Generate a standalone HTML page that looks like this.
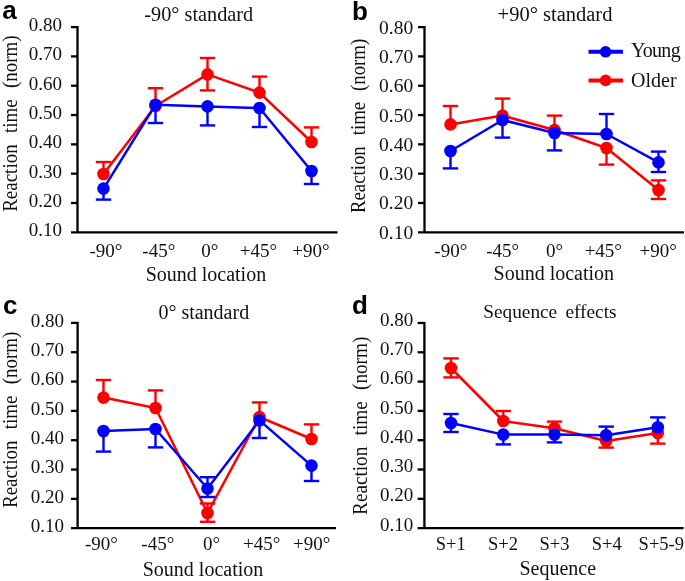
<!DOCTYPE html>
<html><head><meta charset="utf-8"><style>
html,body{margin:0;padding:0;background:#fff;}
body{width:685px;height:581px;overflow:hidden;}
svg{display:block;will-change:transform;}
text{font-family:"Liberation Serif",serif;fill:#111;}
.pl{font-family:"Liberation Sans",sans-serif;font-weight:bold;font-size:26px;fill:#000;}
</style></head><body>
<svg width="685" height="581" viewBox="0 0 685 581">
<rect width="685" height="581" fill="#fff"/>
<text x="2.3" y="19.3" class="pl">a</text>
<text x="198.8" y="20.5" text-anchor="middle" font-size="20.3">-90° standard</text>
<line x1="77.5" y1="26.0" x2="77.5" y2="232.3" stroke="#000" stroke-width="2.3"/>
<line x1="71" y1="232.3" x2="337.5" y2="232.3" stroke="#000" stroke-width="2.3"/>
<line x1="71" y1="27.10" x2="77.5" y2="27.10" stroke="#000" stroke-width="2.3"/>
<line x1="71" y1="56.41" x2="77.5" y2="56.41" stroke="#000" stroke-width="2.3"/>
<line x1="71" y1="85.73" x2="77.5" y2="85.73" stroke="#000" stroke-width="2.3"/>
<line x1="71" y1="115.04" x2="77.5" y2="115.04" stroke="#000" stroke-width="2.3"/>
<line x1="71" y1="144.36" x2="77.5" y2="144.36" stroke="#000" stroke-width="2.3"/>
<line x1="71" y1="173.67" x2="77.5" y2="173.67" stroke="#000" stroke-width="2.3"/>
<line x1="71" y1="202.99" x2="77.5" y2="202.99" stroke="#000" stroke-width="2.3"/>
<text x="62" y="31.00" text-anchor="end" font-size="19">0.80</text>
<text x="62" y="60.31" text-anchor="end" font-size="19">0.70</text>
<text x="62" y="89.63" text-anchor="end" font-size="19">0.60</text>
<text x="62" y="118.94" text-anchor="end" font-size="19">0.50</text>
<text x="62" y="148.26" text-anchor="end" font-size="19">0.40</text>
<text x="62" y="177.57" text-anchor="end" font-size="19">0.30</text>
<text x="62" y="206.89" text-anchor="end" font-size="19">0.20</text>
<text x="62" y="236.20" text-anchor="end" font-size="19">0.10</text>
<text transform="translate(17.0,123.6) rotate(-90) scale(1.0,1.06)" text-anchor="middle" font-size="19" word-spacing="6.5">Reaction time (norm)</text>
<text x="106" y="256.6" text-anchor="middle" font-size="19">-90°</text>
<text x="158.8" y="256.6" text-anchor="middle" font-size="19">-45°</text>
<text x="209.7" y="256.6" text-anchor="middle" font-size="19">0°</text>
<text x="258.5" y="256.6" text-anchor="middle" font-size="19">+45°</text>
<text x="311" y="256.6" text-anchor="middle" font-size="19">+90°</text>
<text x="205.9" y="280.6" text-anchor="middle" font-size="20">Sound location</text>
<polyline points="103.5,174.0 155.5,106.0 207.5,74.4 259.5,92.6 311.5,142.0" fill="none" stroke="#ff0000" stroke-width="2.5" stroke-linejoin="round"/>
<line x1="103.5" y1="174.0" x2="103.5" y2="162.0" stroke="#ff0000" stroke-width="2.4"/>
<line x1="95.8" y1="162.0" x2="111.2" y2="162.0" stroke="#ff0000" stroke-width="2.4"/>
<line x1="155.5" y1="106.0" x2="155.5" y2="88.2" stroke="#ff0000" stroke-width="2.4"/>
<line x1="147.8" y1="88.2" x2="163.2" y2="88.2" stroke="#ff0000" stroke-width="2.4"/>
<line x1="207.5" y1="74.4" x2="207.5" y2="58.0" stroke="#ff0000" stroke-width="2.4"/>
<line x1="199.8" y1="58.0" x2="215.2" y2="58.0" stroke="#ff0000" stroke-width="2.4"/>
<line x1="207.5" y1="74.4" x2="207.5" y2="90.4" stroke="#ff0000" stroke-width="2.4"/>
<line x1="199.8" y1="90.4" x2="215.2" y2="90.4" stroke="#ff0000" stroke-width="2.4"/>
<line x1="259.5" y1="92.6" x2="259.5" y2="76.6" stroke="#ff0000" stroke-width="2.4"/>
<line x1="251.8" y1="76.6" x2="267.2" y2="76.6" stroke="#ff0000" stroke-width="2.4"/>
<line x1="311.5" y1="142.0" x2="311.5" y2="127.4" stroke="#ff0000" stroke-width="2.4"/>
<line x1="303.8" y1="127.4" x2="319.2" y2="127.4" stroke="#ff0000" stroke-width="2.4"/>
<circle cx="103.5" cy="174.0" r="6.3" fill="#ff0000"/>
<circle cx="155.5" cy="106.0" r="6.3" fill="#ff0000"/>
<circle cx="207.5" cy="74.4" r="6.3" fill="#ff0000"/>
<circle cx="259.5" cy="92.6" r="6.3" fill="#ff0000"/>
<circle cx="311.5" cy="142.0" r="6.3" fill="#ff0000"/>
<polyline points="103.5,188.6 155.5,104.7 207.5,106.4 259.5,108.0 311.5,171.0" fill="none" stroke="#0000ff" stroke-width="2.5" stroke-linejoin="round"/>
<line x1="103.5" y1="188.6" x2="103.5" y2="199.6" stroke="#0000ff" stroke-width="2.4"/>
<line x1="95.8" y1="199.6" x2="111.2" y2="199.6" stroke="#0000ff" stroke-width="2.4"/>
<line x1="155.5" y1="104.7" x2="155.5" y2="123.0" stroke="#0000ff" stroke-width="2.4"/>
<line x1="147.8" y1="123.0" x2="163.2" y2="123.0" stroke="#0000ff" stroke-width="2.4"/>
<line x1="207.5" y1="106.4" x2="207.5" y2="125.4" stroke="#0000ff" stroke-width="2.4"/>
<line x1="199.8" y1="125.4" x2="215.2" y2="125.4" stroke="#0000ff" stroke-width="2.4"/>
<line x1="259.5" y1="108.0" x2="259.5" y2="127.0" stroke="#0000ff" stroke-width="2.4"/>
<line x1="251.8" y1="127.0" x2="267.2" y2="127.0" stroke="#0000ff" stroke-width="2.4"/>
<line x1="311.5" y1="171.0" x2="311.5" y2="184.0" stroke="#0000ff" stroke-width="2.4"/>
<line x1="303.8" y1="184.0" x2="319.2" y2="184.0" stroke="#0000ff" stroke-width="2.4"/>
<circle cx="103.5" cy="188.6" r="6.3" fill="#0000ff"/>
<circle cx="155.5" cy="104.7" r="6.3" fill="#0000ff"/>
<circle cx="207.5" cy="106.4" r="6.3" fill="#0000ff"/>
<circle cx="259.5" cy="108.0" r="6.3" fill="#0000ff"/>
<circle cx="311.5" cy="171.0" r="6.3" fill="#0000ff"/>
<text x="352" y="19.5" class="pl" font-size="27">b</text>
<text x="555" y="20.8" text-anchor="middle" font-size="20.5">+90° standard</text>
<line x1="424.5" y1="26.0" x2="424.5" y2="232.3" stroke="#000" stroke-width="2.3"/>
<line x1="418" y1="232.3" x2="684" y2="232.3" stroke="#000" stroke-width="2.3"/>
<line x1="418" y1="27.10" x2="424.5" y2="27.10" stroke="#000" stroke-width="2.3"/>
<line x1="418" y1="56.41" x2="424.5" y2="56.41" stroke="#000" stroke-width="2.3"/>
<line x1="418" y1="85.73" x2="424.5" y2="85.73" stroke="#000" stroke-width="2.3"/>
<line x1="418" y1="115.04" x2="424.5" y2="115.04" stroke="#000" stroke-width="2.3"/>
<line x1="418" y1="144.36" x2="424.5" y2="144.36" stroke="#000" stroke-width="2.3"/>
<line x1="418" y1="173.67" x2="424.5" y2="173.67" stroke="#000" stroke-width="2.3"/>
<line x1="418" y1="202.99" x2="424.5" y2="202.99" stroke="#000" stroke-width="2.3"/>
<text x="413.2" y="33.60" text-anchor="end" font-size="19.5">0.80</text>
<text x="413.2" y="62.91" text-anchor="end" font-size="19.5">0.70</text>
<text x="413.2" y="92.23" text-anchor="end" font-size="19.5">0.60</text>
<text x="413.2" y="121.54" text-anchor="end" font-size="19.5">0.50</text>
<text x="413.2" y="150.86" text-anchor="end" font-size="19.5">0.40</text>
<text x="413.2" y="180.17" text-anchor="end" font-size="19.5">0.30</text>
<text x="413.2" y="209.49" text-anchor="end" font-size="19.5">0.20</text>
<text x="413.2" y="238.80" text-anchor="end" font-size="19.5">0.10</text>
<text transform="translate(364.8,125.9) rotate(-90) scale(0.99,1.06)" text-anchor="middle" font-size="19" word-spacing="6.3">Reaction time (norm)</text>
<text x="450.8" y="256.9" text-anchor="middle" font-size="19">-90°</text>
<text x="502.7" y="256.9" text-anchor="middle" font-size="19">-45°</text>
<text x="554.5" y="256.9" text-anchor="middle" font-size="19">0°</text>
<text x="603.3" y="256.9" text-anchor="middle" font-size="19">+45°</text>
<text x="658.1" y="256.9" text-anchor="middle" font-size="19">+90°</text>
<text x="553.8" y="280" text-anchor="middle" font-size="20">Sound location</text>
<polyline points="450.5,124.4 502.5,115.6 554.5,130.0 606.5,148.0 658.5,190.0" fill="none" stroke="#ff0000" stroke-width="2.5" stroke-linejoin="round"/>
<line x1="450.5" y1="124.4" x2="450.5" y2="106.0" stroke="#ff0000" stroke-width="2.4"/>
<line x1="442.8" y1="106.0" x2="458.2" y2="106.0" stroke="#ff0000" stroke-width="2.4"/>
<line x1="502.5" y1="115.6" x2="502.5" y2="98.6" stroke="#ff0000" stroke-width="2.4"/>
<line x1="494.8" y1="98.6" x2="510.2" y2="98.6" stroke="#ff0000" stroke-width="2.4"/>
<line x1="554.5" y1="130.0" x2="554.5" y2="115.6" stroke="#ff0000" stroke-width="2.4"/>
<line x1="546.8" y1="115.6" x2="562.2" y2="115.6" stroke="#ff0000" stroke-width="2.4"/>
<line x1="606.5" y1="148.0" x2="606.5" y2="164.6" stroke="#ff0000" stroke-width="2.4"/>
<line x1="598.8" y1="164.6" x2="614.2" y2="164.6" stroke="#ff0000" stroke-width="2.4"/>
<line x1="658.5" y1="190.0" x2="658.5" y2="180.4" stroke="#ff0000" stroke-width="2.4"/>
<line x1="650.8" y1="180.4" x2="666.2" y2="180.4" stroke="#ff0000" stroke-width="2.4"/>
<line x1="658.5" y1="190.0" x2="658.5" y2="199.0" stroke="#ff0000" stroke-width="2.4"/>
<line x1="650.8" y1="199.0" x2="666.2" y2="199.0" stroke="#ff0000" stroke-width="2.4"/>
<circle cx="450.5" cy="124.4" r="6.3" fill="#ff0000"/>
<circle cx="502.5" cy="115.6" r="6.3" fill="#ff0000"/>
<circle cx="554.5" cy="130.0" r="6.3" fill="#ff0000"/>
<circle cx="606.5" cy="148.0" r="6.3" fill="#ff0000"/>
<circle cx="658.5" cy="190.0" r="6.3" fill="#ff0000"/>
<polyline points="450.5,151.0 502.5,120.0 554.5,133.0 606.5,134.0 658.5,162.4" fill="none" stroke="#0000ff" stroke-width="2.5" stroke-linejoin="round"/>
<line x1="450.5" y1="151.0" x2="450.5" y2="168.4" stroke="#0000ff" stroke-width="2.4"/>
<line x1="442.8" y1="168.4" x2="458.2" y2="168.4" stroke="#0000ff" stroke-width="2.4"/>
<line x1="502.5" y1="120.0" x2="502.5" y2="137.6" stroke="#0000ff" stroke-width="2.4"/>
<line x1="494.8" y1="137.6" x2="510.2" y2="137.6" stroke="#0000ff" stroke-width="2.4"/>
<line x1="554.5" y1="133.0" x2="554.5" y2="150.4" stroke="#0000ff" stroke-width="2.4"/>
<line x1="546.8" y1="150.4" x2="562.2" y2="150.4" stroke="#0000ff" stroke-width="2.4"/>
<line x1="606.5" y1="134.0" x2="606.5" y2="114.0" stroke="#0000ff" stroke-width="2.4"/>
<line x1="598.8" y1="114.0" x2="614.2" y2="114.0" stroke="#0000ff" stroke-width="2.4"/>
<line x1="658.5" y1="162.4" x2="658.5" y2="151.6" stroke="#0000ff" stroke-width="2.4"/>
<line x1="650.8" y1="151.6" x2="666.2" y2="151.6" stroke="#0000ff" stroke-width="2.4"/>
<line x1="658.5" y1="162.4" x2="658.5" y2="172.0" stroke="#0000ff" stroke-width="2.4"/>
<line x1="650.8" y1="172.0" x2="666.2" y2="172.0" stroke="#0000ff" stroke-width="2.4"/>
<circle cx="450.5" cy="151.0" r="6.3" fill="#0000ff"/>
<circle cx="502.5" cy="120.0" r="6.3" fill="#0000ff"/>
<circle cx="554.5" cy="133.0" r="6.3" fill="#0000ff"/>
<circle cx="606.5" cy="134.0" r="6.3" fill="#0000ff"/>
<circle cx="658.5" cy="162.4" r="6.3" fill="#0000ff"/>
<line x1="588.5" y1="51.8" x2="623" y2="51.8" stroke="#0000ff" stroke-width="4"/>
<circle cx="605.6" cy="51.8" r="5.8" fill="#0000ff"/>
<line x1="588.5" y1="80.4" x2="623" y2="80.4" stroke="#ff0000" stroke-width="4"/>
<circle cx="605.6" cy="80.4" r="5.8" fill="#ff0000"/>
<text x="631" y="56.7" font-size="20" letter-spacing="-0.7">Young</text>
<text x="631" y="87" font-size="20">Older</text>
<text x="3" y="314" class="pl">c</text>
<text x="203.8" y="318.6" text-anchor="middle" font-size="20">0° standard</text>
<line x1="77.6" y1="321.79999999999995" x2="77.6" y2="528.2" stroke="#000" stroke-width="2.3"/>
<line x1="71" y1="528.2" x2="336" y2="528.2" stroke="#000" stroke-width="2.3"/>
<line x1="71" y1="322.90" x2="77.6" y2="322.90" stroke="#000" stroke-width="2.3"/>
<line x1="71" y1="352.23" x2="77.6" y2="352.23" stroke="#000" stroke-width="2.3"/>
<line x1="71" y1="381.56" x2="77.6" y2="381.56" stroke="#000" stroke-width="2.3"/>
<line x1="71" y1="410.89" x2="77.6" y2="410.89" stroke="#000" stroke-width="2.3"/>
<line x1="71" y1="440.21" x2="77.6" y2="440.21" stroke="#000" stroke-width="2.3"/>
<line x1="71" y1="469.54" x2="77.6" y2="469.54" stroke="#000" stroke-width="2.3"/>
<line x1="71" y1="498.87" x2="77.6" y2="498.87" stroke="#000" stroke-width="2.3"/>
<text x="64" y="326.80" text-anchor="end" font-size="19">0.80</text>
<text x="64" y="356.13" text-anchor="end" font-size="19">0.70</text>
<text x="64" y="385.46" text-anchor="end" font-size="19">0.60</text>
<text x="64" y="414.79" text-anchor="end" font-size="19">0.50</text>
<text x="64" y="444.11" text-anchor="end" font-size="19">0.40</text>
<text x="64" y="473.44" text-anchor="end" font-size="19">0.30</text>
<text x="64" y="502.77" text-anchor="end" font-size="19">0.20</text>
<text x="64" y="532.10" text-anchor="end" font-size="19">0.10</text>
<text transform="translate(17.0,419.8) rotate(-90) scale(1.0,1.06)" text-anchor="middle" font-size="19" word-spacing="6.5">Reaction time (norm)</text>
<text x="101.5" y="549.9" text-anchor="middle" font-size="19">-90°</text>
<text x="157.8" y="549.9" text-anchor="middle" font-size="19">-45°</text>
<text x="211.5" y="549.9" text-anchor="middle" font-size="19">0°</text>
<text x="261.6" y="549.9" text-anchor="middle" font-size="19">+45°</text>
<text x="311.7" y="549.9" text-anchor="middle" font-size="19">+90°</text>
<text x="203" y="576" text-anchor="middle" font-size="20">Sound location</text>
<polyline points="103.5,397.6 155.5,408.0 207.5,513.0 259.5,417.0 311.5,439.0" fill="none" stroke="#ff0000" stroke-width="2.5" stroke-linejoin="round"/>
<line x1="103.5" y1="397.6" x2="103.5" y2="380.0" stroke="#ff0000" stroke-width="2.4"/>
<line x1="95.8" y1="380.0" x2="111.2" y2="380.0" stroke="#ff0000" stroke-width="2.4"/>
<line x1="155.5" y1="408.0" x2="155.5" y2="390.4" stroke="#ff0000" stroke-width="2.4"/>
<line x1="147.8" y1="390.4" x2="163.2" y2="390.4" stroke="#ff0000" stroke-width="2.4"/>
<line x1="207.5" y1="513.0" x2="207.5" y2="503.5" stroke="#ff0000" stroke-width="2.4"/>
<line x1="199.8" y1="503.5" x2="215.2" y2="503.5" stroke="#ff0000" stroke-width="2.4"/>
<line x1="207.5" y1="513.0" x2="207.5" y2="521.8" stroke="#ff0000" stroke-width="2.4"/>
<line x1="199.8" y1="521.8" x2="215.2" y2="521.8" stroke="#ff0000" stroke-width="2.4"/>
<line x1="259.5" y1="417.0" x2="259.5" y2="402.4" stroke="#ff0000" stroke-width="2.4"/>
<line x1="251.8" y1="402.4" x2="267.2" y2="402.4" stroke="#ff0000" stroke-width="2.4"/>
<line x1="311.5" y1="439.0" x2="311.5" y2="424.4" stroke="#ff0000" stroke-width="2.4"/>
<line x1="303.8" y1="424.4" x2="319.2" y2="424.4" stroke="#ff0000" stroke-width="2.4"/>
<circle cx="103.5" cy="397.6" r="6.3" fill="#ff0000"/>
<circle cx="155.5" cy="408.0" r="6.3" fill="#ff0000"/>
<circle cx="207.5" cy="513.0" r="6.3" fill="#ff0000"/>
<circle cx="259.5" cy="417.0" r="6.3" fill="#ff0000"/>
<circle cx="311.5" cy="439.0" r="6.3" fill="#ff0000"/>
<polyline points="103.5,431.0 155.5,429.0 207.5,488.5 259.5,420.4 311.5,465.6" fill="none" stroke="#0000ff" stroke-width="2.5" stroke-linejoin="round"/>
<line x1="103.5" y1="431.0" x2="103.5" y2="451.6" stroke="#0000ff" stroke-width="2.4"/>
<line x1="95.8" y1="451.6" x2="111.2" y2="451.6" stroke="#0000ff" stroke-width="2.4"/>
<line x1="155.5" y1="429.0" x2="155.5" y2="447.4" stroke="#0000ff" stroke-width="2.4"/>
<line x1="147.8" y1="447.4" x2="163.2" y2="447.4" stroke="#0000ff" stroke-width="2.4"/>
<line x1="207.5" y1="488.5" x2="207.5" y2="477.2" stroke="#0000ff" stroke-width="2.4"/>
<line x1="199.8" y1="477.2" x2="215.2" y2="477.2" stroke="#0000ff" stroke-width="2.4"/>
<line x1="207.5" y1="488.5" x2="207.5" y2="497.0" stroke="#0000ff" stroke-width="2.4"/>
<line x1="199.8" y1="497.0" x2="215.2" y2="497.0" stroke="#0000ff" stroke-width="2.4"/>
<line x1="259.5" y1="420.4" x2="259.5" y2="438.0" stroke="#0000ff" stroke-width="2.4"/>
<line x1="251.8" y1="438.0" x2="267.2" y2="438.0" stroke="#0000ff" stroke-width="2.4"/>
<line x1="311.5" y1="465.6" x2="311.5" y2="481.0" stroke="#0000ff" stroke-width="2.4"/>
<line x1="303.8" y1="481.0" x2="319.2" y2="481.0" stroke="#0000ff" stroke-width="2.4"/>
<circle cx="103.5" cy="431.0" r="6.3" fill="#0000ff"/>
<circle cx="155.5" cy="429.0" r="6.3" fill="#0000ff"/>
<circle cx="207.5" cy="488.5" r="6.3" fill="#0000ff"/>
<circle cx="259.5" cy="420.4" r="6.3" fill="#0000ff"/>
<circle cx="311.5" cy="465.6" r="6.3" fill="#0000ff"/>
<text x="352" y="314" class="pl" font-size="27">d</text>
<text x="549.9" y="318" text-anchor="middle" font-size="19.3" word-spacing="3.5">Sequence effects</text>
<line x1="424.4" y1="321.9" x2="424.4" y2="528.1" stroke="#000" stroke-width="2.3"/>
<line x1="417.6" y1="528.1" x2="683.6" y2="528.1" stroke="#000" stroke-width="2.3"/>
<line x1="417.6" y1="323.00" x2="424.4" y2="323.00" stroke="#000" stroke-width="2.3"/>
<line x1="417.6" y1="352.30" x2="424.4" y2="352.30" stroke="#000" stroke-width="2.3"/>
<line x1="417.6" y1="381.60" x2="424.4" y2="381.60" stroke="#000" stroke-width="2.3"/>
<line x1="417.6" y1="410.90" x2="424.4" y2="410.90" stroke="#000" stroke-width="2.3"/>
<line x1="417.6" y1="440.20" x2="424.4" y2="440.20" stroke="#000" stroke-width="2.3"/>
<line x1="417.6" y1="469.50" x2="424.4" y2="469.50" stroke="#000" stroke-width="2.3"/>
<line x1="417.6" y1="498.80" x2="424.4" y2="498.80" stroke="#000" stroke-width="2.3"/>
<text x="413.2" y="325.60" text-anchor="end" font-size="19">0.80</text>
<text x="413.2" y="354.90" text-anchor="end" font-size="19">0.70</text>
<text x="413.2" y="384.20" text-anchor="end" font-size="19">0.60</text>
<text x="413.2" y="413.50" text-anchor="end" font-size="19">0.50</text>
<text x="413.2" y="442.80" text-anchor="end" font-size="19">0.40</text>
<text x="413.2" y="472.10" text-anchor="end" font-size="19">0.30</text>
<text x="413.2" y="501.40" text-anchor="end" font-size="19">0.20</text>
<text x="413.2" y="530.70" text-anchor="end" font-size="19">0.10</text>
<text transform="translate(366.5,425.8) rotate(-90) scale(1.01,1.06)" text-anchor="middle" font-size="19" word-spacing="6.5">Reaction time (norm)</text>
<text x="450.7" y="549.7" text-anchor="middle" font-size="18.5">S+1</text>
<text x="503" y="549.7" text-anchor="middle" font-size="18.5">S+2</text>
<text x="554.5" y="549.7" text-anchor="middle" font-size="18.5">S+3</text>
<text x="606.7" y="549.7" text-anchor="middle" font-size="18.5">S+4</text>
<text x="661.3" y="549.7" text-anchor="middle" font-size="18.5">S+5-9</text>
<text x="557.8" y="574.7" text-anchor="middle" font-size="20">Sequence</text>
<polyline points="451.0,368.0 503.3,421.0 554.5,428.2 606.2,441.0 657.8,433.0" fill="none" stroke="#ff0000" stroke-width="2.5" stroke-linejoin="round"/>
<line x1="451.0" y1="368.0" x2="451.0" y2="358.4" stroke="#ff0000" stroke-width="2.4"/>
<line x1="443.3" y1="358.4" x2="458.7" y2="358.4" stroke="#ff0000" stroke-width="2.4"/>
<line x1="451.0" y1="368.0" x2="451.0" y2="377.4" stroke="#ff0000" stroke-width="2.4"/>
<line x1="443.3" y1="377.4" x2="458.7" y2="377.4" stroke="#ff0000" stroke-width="2.4"/>
<line x1="503.3" y1="421.0" x2="503.3" y2="411.0" stroke="#ff0000" stroke-width="2.4"/>
<line x1="495.6" y1="411.0" x2="511.0" y2="411.0" stroke="#ff0000" stroke-width="2.4"/>
<line x1="554.5" y1="428.2" x2="554.5" y2="421.6" stroke="#ff0000" stroke-width="2.4"/>
<line x1="546.8" y1="421.6" x2="562.2" y2="421.6" stroke="#ff0000" stroke-width="2.4"/>
<line x1="606.2" y1="441.0" x2="606.2" y2="447.6" stroke="#ff0000" stroke-width="2.4"/>
<line x1="598.5" y1="447.6" x2="613.9" y2="447.6" stroke="#ff0000" stroke-width="2.4"/>
<line x1="657.8" y1="433.0" x2="657.8" y2="443.6" stroke="#ff0000" stroke-width="2.4"/>
<line x1="650.1" y1="443.6" x2="665.5" y2="443.6" stroke="#ff0000" stroke-width="2.4"/>
<circle cx="451.0" cy="368.0" r="6.3" fill="#ff0000"/>
<circle cx="503.3" cy="421.0" r="6.3" fill="#ff0000"/>
<circle cx="554.5" cy="428.2" r="6.3" fill="#ff0000"/>
<circle cx="606.2" cy="441.0" r="6.3" fill="#ff0000"/>
<circle cx="657.8" cy="433.0" r="6.3" fill="#ff0000"/>
<polyline points="451.0,423.0 503.3,434.6 554.5,434.6 606.2,435.3 657.8,427.2" fill="none" stroke="#0000ff" stroke-width="2.5" stroke-linejoin="round"/>
<line x1="451.0" y1="423.0" x2="451.0" y2="414.0" stroke="#0000ff" stroke-width="2.4"/>
<line x1="443.3" y1="414.0" x2="458.7" y2="414.0" stroke="#0000ff" stroke-width="2.4"/>
<line x1="451.0" y1="423.0" x2="451.0" y2="432.0" stroke="#0000ff" stroke-width="2.4"/>
<line x1="443.3" y1="432.0" x2="458.7" y2="432.0" stroke="#0000ff" stroke-width="2.4"/>
<line x1="503.3" y1="434.6" x2="503.3" y2="444.4" stroke="#0000ff" stroke-width="2.4"/>
<line x1="495.6" y1="444.4" x2="511.0" y2="444.4" stroke="#0000ff" stroke-width="2.4"/>
<line x1="554.5" y1="434.6" x2="554.5" y2="442.4" stroke="#0000ff" stroke-width="2.4"/>
<line x1="546.8" y1="442.4" x2="562.2" y2="442.4" stroke="#0000ff" stroke-width="2.4"/>
<line x1="606.2" y1="435.3" x2="606.2" y2="426.6" stroke="#0000ff" stroke-width="2.4"/>
<line x1="598.5" y1="426.6" x2="613.9" y2="426.6" stroke="#0000ff" stroke-width="2.4"/>
<line x1="657.8" y1="427.2" x2="657.8" y2="417.4" stroke="#0000ff" stroke-width="2.4"/>
<line x1="650.1" y1="417.4" x2="665.5" y2="417.4" stroke="#0000ff" stroke-width="2.4"/>
<circle cx="451.0" cy="423.0" r="6.3" fill="#0000ff"/>
<circle cx="503.3" cy="434.6" r="6.3" fill="#0000ff"/>
<circle cx="554.5" cy="434.6" r="6.3" fill="#0000ff"/>
<circle cx="606.2" cy="435.3" r="6.3" fill="#0000ff"/>
<circle cx="657.8" cy="427.2" r="6.3" fill="#0000ff"/>
</svg>
</body></html>
